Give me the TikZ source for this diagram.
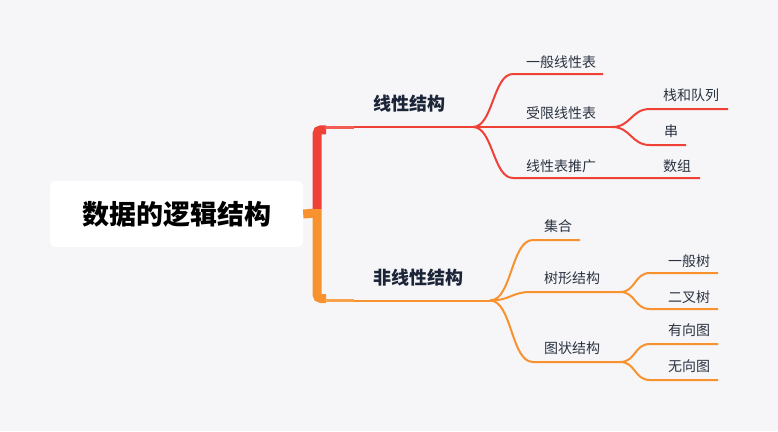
\documentclass[tikz,border=0pt]{standalone}
\usepackage{fontspec}
\setmainfont{Noto Sans CJK SC}
\definecolor{cR}{HTML}{EF4136}
\definecolor{cO}{HTML}{F7922F}
\definecolor{bgc}{HTML}{F6F6F9}
\definecolor{txt}{HTML}{2B3341}
\definecolor{txtb}{HTML}{1C2538}
\tikzset{
  ln/.style={line width=2pt},
  bar/.style={line width=9pt, rounded corners=4pt},
  stub/.style={line width=3pt},
  lab/.style={anchor=west, inner sep=0pt, font=\fontsize{14}{14}\selectfont, text=txt},
  mid/.style={anchor=west, inner sep=0pt, font=\fontsize{18}{18}\selectfont\bfseries, text=txtb},
  rootbox/.style={fill=white, rounded corners=5pt, minimum width=253pt, minimum height=66pt, inner sep=0pt,
    font=\fontsize{27}{27}\selectfont\bfseries, text=black}
}
\begin{document}
\begin{tikzpicture}[x=1pt,y=-1pt]
\fill[bgc] (0,0) rectangle (778,431);
\useasboundingbox (0,0) rectangle (778,431);

% root
\node[rootbox] (root) at (176.5,214) {数据的逻辑结构};

% coordinates
\coordinate (barT) at (317,129.8);
\coordinate (barM) at (317,209);
\coordinate (barB) at (317,298.5);
\coordinate (t0) at (354,127);
\coordinate (tb) at (473,127);
\coordinate (b0) at (354,300.5);
\coordinate (bb) at (490,300.5);

% trunk
\draw[cO, line width=9pt] (root.east) -- (317,213);
\draw[cR, bar] (326,129.8) -- (barT) -- (barM);
\draw[cO, bar] (barM) -- (barB) -- (326,298.5);
\draw[cR!85!white, stub] (325,127) -- (t0);
\draw[cO!85!white, stub] (325,300.5) -- (b0);

% ---------- upper branch ----------
\node[mid] (lin) at (373,104) {线性结构};
\draw[cR, ln] (t0) -- (tb);

\coordinate (a1s) at (513,74);   \coordinate (a1e) at (603,74);
\coordinate (a2e) at (612,127);
\coordinate (a3s) at (513,178);  \coordinate (a3e) at (700,178);
\coordinate (c1s) at (650,109);  \coordinate (c1e) at (728,109);
\coordinate (c2s) at (650,145);  \coordinate (c2e) at (686,145);

\draw[cR, ln] (tb) .. controls (493,127) and (493,74) .. (a1s) -- (a1e);
\draw[cR, ln] (tb) -- (a2e);
\draw[cR, ln] (tb) .. controls (493,127) and (493,178) .. (a3s) -- (a3e);
\draw[cR, ln] (a2e) .. controls (631,127) and (631,109) .. (c1s) -- (c1e);
\draw[cR, ln] (a2e) .. controls (631,127) and (631,145) .. (c2s) -- (c2e);

\node[lab] (a1) at (526,62) {一般线性表};
\node[lab] (a2) at (526,113) {受限线性表};
\node[lab] (a3) at (526,166) {线性表推广};
\node[lab] (c1) at (663,95) {栈和队列};
\node[lab] (c2) at (664,131) {串};
\node[lab] (c3) at (663,166) {数组};

% ---------- lower branch ----------
\node[mid] (nonlin) at (373,278) {非线性结构};
\draw[cO, ln] (b0) -- (bb);

\coordinate (d1s) at (533,240);  \coordinate (d1e) at (580,240);
\coordinate (d2s) at (530,292);  \coordinate (d2e) at (620,292);
\coordinate (d3s) at (533,362);  \coordinate (d3e) at (620,362);
\coordinate (e1s) at (650,273);  \coordinate (e1e) at (718,273);
\coordinate (e2s) at (650,309);  \coordinate (e2e) at (718,309);
\coordinate (e3s) at (650,344);  \coordinate (e3e) at (718,344);
\coordinate (e4s) at (650,380);  \coordinate (e4e) at (718,380);

\draw[cO, ln] (bb) .. controls (512,300.5) and (511,240) .. (d1s) -- (d1e);
\draw[cO, ln] (bb) .. controls (510,300.5) and (512,292) .. (d2s) -- (d2e);
\draw[cO, ln] (bb) .. controls (512,300.5) and (511,362) .. (d3s) -- (d3e);
\draw[cO, ln] (d2e) .. controls (636,292) and (634,273) .. (e1s) -- (e1e);
\draw[cO, ln] (d2e) .. controls (636,292) and (634,309) .. (e2s) -- (e2e);
\draw[cO, ln] (d3e) .. controls (636,362) and (634,344) .. (e3s) -- (e3e);
\draw[cO, ln] (d3e) .. controls (636,362) and (634,380) .. (e4s) -- (e4e);

\node[lab] (d1) at (544,226) {集合};
\node[lab] (d2) at (544,278) {树形结构};
\node[lab] (d3) at (544,348) {图状结构};
\node[lab] (e1) at (668,261) {一般树};
\node[lab] (e2) at (668,297) {二叉树};
\node[lab] (e3) at (668,330) {有向图};
\node[lab] (e4) at (668,366) {无向图};
\end{tikzpicture}
\end{document}
